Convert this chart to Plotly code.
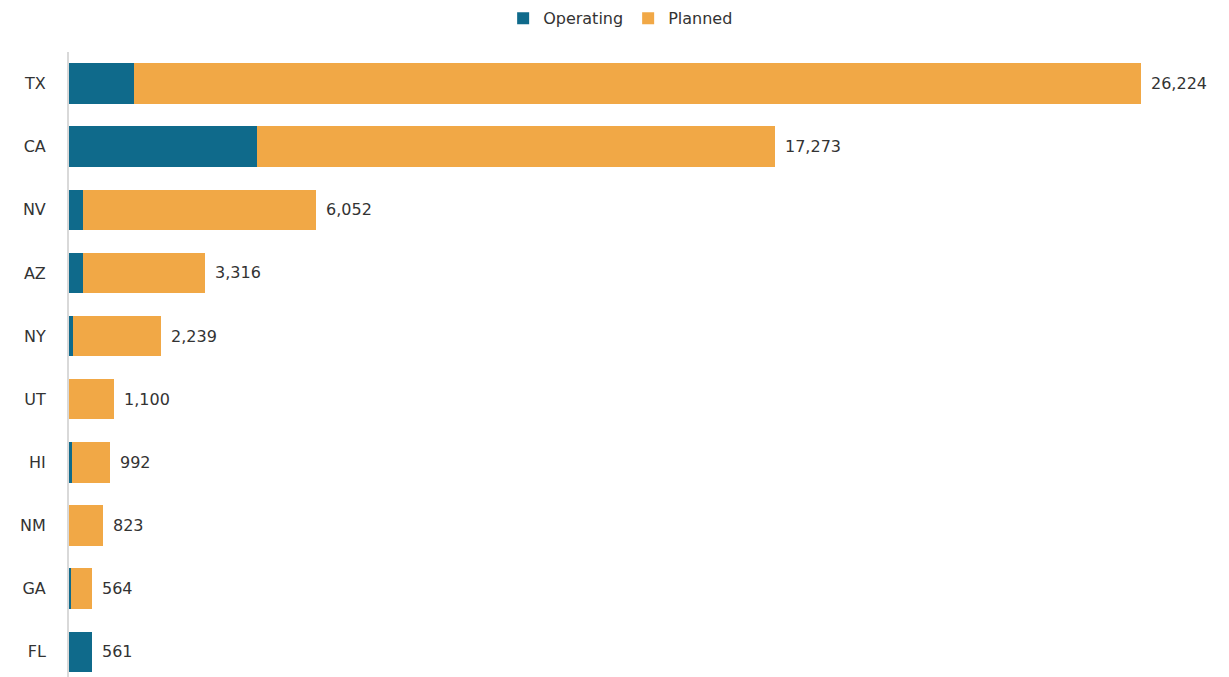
import plotly.graph_objects as go

states = ["TX", "CA", "NV", "AZ", "NY", "UT", "HI", "NM", "GA", "FL"]
operating = [1600, 4600, 340, 340, 100, 0, 70, 0, 50, 561]
totals = [26224, 17273, 6052, 3316, 2239, 1100, 992, 823, 564, 561]
planned = [t - o for t, o in zip(totals, operating)]
total_labels = [f"{t:,}" for t in totals]

TEAL = "#0f6a8b"
ORANGE = "#f1a846"
FONT = "DejaVu Sans"
TXT = "#333333"

fig = go.Figure()
fig.add_trace(go.Bar(y=states, x=operating, orientation="h", name="Operating",
                     marker=dict(color=TEAL, line=dict(width=0))))
fig.add_trace(go.Bar(y=states, x=planned, orientation="h", name="Planned",
                     marker=dict(color=ORANGE, line=dict(width=0))))

for s, t, lab in zip(states, totals, total_labels):
    fig.add_annotation(x=t, y=s, text=lab, showarrow=False, xanchor="left",
                       xshift=8, font=dict(family=FONT, size=16, color=TXT))

fig.update_layout(
    width=1229, height=677,
    barmode="stack", bargap=0.36,
    plot_bgcolor="white", paper_bgcolor="white",
    margin=dict(l=69, r=36, t=52, b=0),
    font=dict(family=FONT, size=16, color=TXT),
    legend=dict(orientation="h", xref="container", x=0.505, xanchor="center",
                yref="container", y=0.973, yanchor="middle",
                font=dict(family=FONT, size=16, color=TXT),
                itemwidth=30, traceorder="normal"),
    xaxis=dict(range=[0, 27500], showgrid=False, zeroline=False,
               showticklabels=False, showline=False, fixedrange=True),
    yaxis=dict(categoryorder="array", categoryarray=states,
               range=[9.4, -0.5], showgrid=False, zeroline=False,
               showline=True, linecolor="#d9d9d9", linewidth=2,
               ticks="", ticklabelstandoff=18,
               tickfont=dict(family=FONT, size=16, color=TXT)),
)

fig.write_html("out.html")
